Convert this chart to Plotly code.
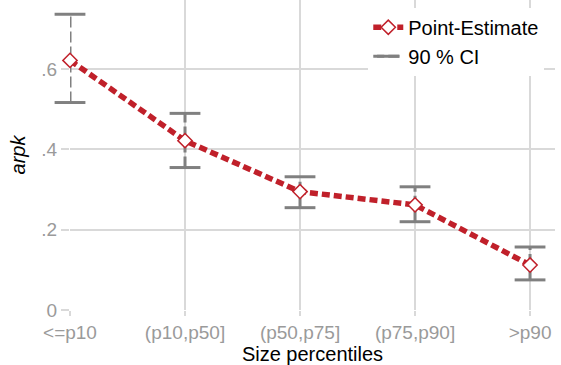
import plotly.graph_objects as go

categories = ["<=p10", "(p10,p50]", "(p50,p75]", "(p75,p90]", ">p90"]
point_estimate = [0.622, 0.422, 0.295, 0.262, 0.112]
ci_low = [0.517, 0.355, 0.255, 0.220, 0.075]
ci_high = [0.737, 0.490, 0.332, 0.307, 0.157]
ytick_vals = [0, 0.2, 0.4, 0.6]
ytick_text = ["0", ".2", ".4", ".6"]

xpos = list(range(1, len(categories) + 1))

ci_x, ci_y = [], []
for xi, lo, hi in zip(xpos, ci_low, ci_high):
    ci_x += [xi, xi, None]
    ci_y += [lo, hi, None]

FONT = "Liberation Sans, Arial, sans-serif"
RED = "#c0202a"
GRAY = "#808080"

fig = go.Figure()
fig.add_trace(go.Scatter(
    x=ci_x, y=ci_y, mode="lines+markers", name="90 % CI",
    line=dict(color=GRAY, width=3, dash="11px,4px"),
    marker=dict(symbol="line-ew", size=22, color=GRAY,
                line=dict(color=GRAY, width=3)),
    cliponaxis=False,
))
fig.add_trace(go.Scatter(
    x=xpos, y=point_estimate, mode="lines+markers", name="Point-Estimate",
    line=dict(color=RED, width=5.5, dash="8px,4px"),
    marker=dict(symbol="diamond", size=11, color="white",
                line=dict(color=RED, width=1.5)),
    cliponaxis=False,
))

fig.update_layout(
    width=561, height=365,
    margin=dict(l=70, r=6, t=0, b=55),
    paper_bgcolor="white", plot_bgcolor="white",
    font=dict(family=FONT, size=18, color="black"),
    showlegend=True,
    legend=dict(x=0.615, y=0.975, xanchor="left", yanchor="top",
                bgcolor="white", font=dict(size=20, color="black"),
                traceorder="reversed", itemwidth=30, tracegroupgap=0),
    xaxis=dict(
        range=[1, 5.217], tickvals=xpos, ticktext=categories,
        showgrid=True, gridcolor="#d9d9d9", gridwidth=1.5,
        ticks="outside", ticklen=5, tickcolor="#d9d9d9", tickwidth=1.5,
        tickfont=dict(color="#9a9a9a", size=19),
        zeroline=False, showline=False,
        title=dict(text="Size percentiles", font=dict(size=20, color="black"), standoff=6),
    ),
    yaxis=dict(
        range=[0, 0.7725], tickvals=ytick_vals, ticktext=ytick_text,
        showgrid=True, gridcolor="#d9d9d9", gridwidth=1.5,
        ticks="outside", ticklen=8, tickcolor="#d9d9d9", tickwidth=1.5,
        tickfont=dict(color="#9a9a9a", size=19),
        zeroline=False, showline=False,
        title=dict(text="<i>arpk</i>", font=dict(size=20, color="black"), standoff=10),
    ),
)

fig.write_html("out.html", config={"displayModeBar": False},
               post_script="document.body.style.margin='0';")
